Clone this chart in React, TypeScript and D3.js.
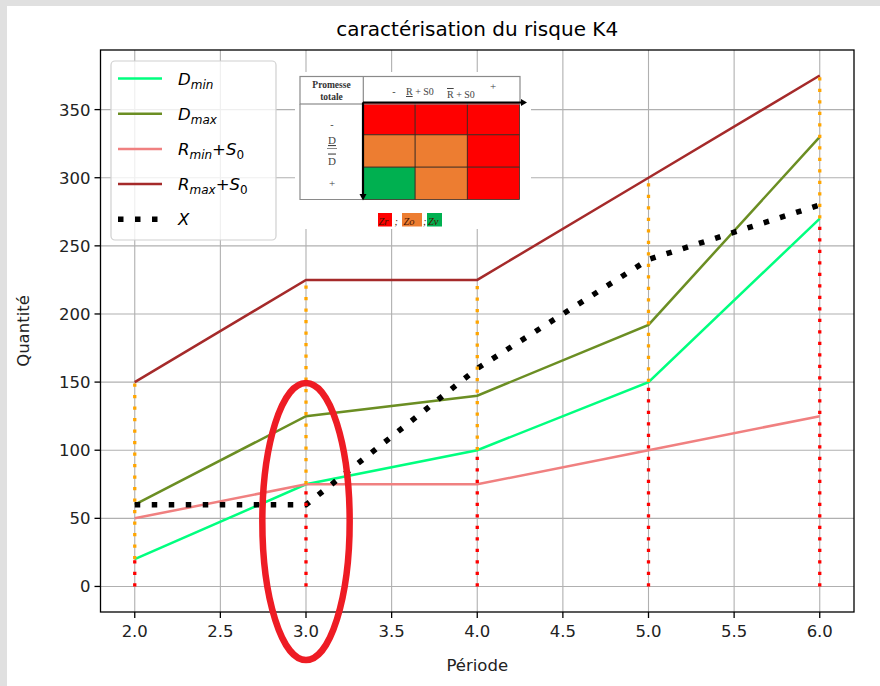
import React from "react";
import * as d3 from "d3";

// ---- data ----
const periods = [2, 3, 4, 5, 6];
const dMin = [20, 75, 100, 150, 270];
const dMax = [60, 125, 140, 192, 330];
const rMinS0 = [50, 75, 75, 100, 125];
const rMaxS0 = [150, 225, 225, 300, 375];
const xValues = [60, 60, 160, 240, 280];
const xTicks = [2.0, 2.5, 3.0, 3.5, 4.0, 4.5, 5.0, 5.5, 6.0];
const yTicks = [0, 50, 100, 150, 200, 250, 300, 350];
// annotation ellipse in data units
const ellipseCenter = [3.0, 47.7];
const ellipseRadii = [0.255, 101.7];
// risk matrix colours (rows top -> bottom)
const matrixColors = [
  ["#ff0000", "#ff0000", "#ff0000"],
  ["#ed7d31", "#ed7d31", "#ff0000"],
  ["#00b050", "#ed7d31", "#ff0000"],
];

const W = 880;
const H = 686;
const L = 100.5, R = 854, T = 50, B = 612;

const x = d3.scaleLinear().domain([1.8, 6.2]).range([L, R]);
const y = d3.scaleLinear().domain([-18.75, 393.75]).range([B, T]);

const series = [
  { key: "dmin", values: dMin, color: "#00ff7f" },
  { key: "dmax", values: dMax, color: "#6b8e23" },
  { key: "rmin", values: rMinS0, color: "#f08080" },
  { key: "rmax", values: rMaxS0, color: "#a52a2a" },
];

const lineGen = d3
  .line<[number, number]>()
  .x((d) => x(d[0]))
  .y((d) => y(d[1]));

const pts = (vals: number[]) => periods.map((p, i) => [p, vals[i]] as [number, number]);

const FONT = "DejaVu Sans, sans-serif";
const SERIF = "Liberation Serif, DejaVu Serif, serif";

function LegendLabel({ kind }: { kind: string }) {
  const base = { fontFamily: FONT, fontSize: 16.5, fill: "#000" } as any;
  if (kind === "dmin" || kind === "dmax") {
    return (
      <text {...base}>
        <tspan fontStyle="italic">D</tspan>
        <tspan fontStyle="italic" fontSize={12} dy={4}>{kind === "dmin" ? "min" : "max"}</tspan>
      </text>
    );
  }
  if (kind === "rmin" || kind === "rmax") {
    return (
      <text {...base}>
        <tspan fontStyle="italic">R</tspan>
        <tspan fontStyle="italic" fontSize={12} dy={4}>{kind === "rmin" ? "min" : "max"}</tspan>
        <tspan dy={-4}>+</tspan>
        <tspan fontStyle="italic">S</tspan>
        <tspan fontSize={12} dy={4}>0</tspan>
      </text>
    );
  }
  return (
    <text {...base}>
      <tspan fontStyle="italic">X</tspan>
    </text>
  );
}

function Inset() {
  const gx0 = 363, gx1 = 519.5, gy0 = 102.5, gy1 = 199.5;
  const cw = (gx1 - gx0) / 3, ch = (gy1 - gy0) / 3;
  return (
    <g>
      <rect x={295} y={72} width={236} height={157} fill="#fff" />
      {matrixColors.map((row, r) =>
        row.map((c, k) => (
          <rect key={`${r}-${k}`} x={gx0 + k * cw} y={gy0 + r * ch} width={cw} height={ch} fill={c} stroke="#3a2a20" strokeWidth={0.8} />
        ))
      )}
      {/* header and left column borders */}
      <rect x={300} y={76.5} width={220} height={27.5} fill="none" stroke="#8a8a8a" strokeWidth={1.2} />
      <line x1={363.3} y1={76.5} x2={363.3} y2={104} stroke="#8a8a8a" strokeWidth={1.2} />
      <polyline points="300,104 300,199.5 363,199.5" fill="none" stroke="#8a8a8a" strokeWidth={1.2} />
      <text x={331.5} y={88} textAnchor="middle" fontFamily={SERIF} fontWeight="bold" fontSize={9.5} fill="#333">Promesse</text>
      <text x={331.5} y={99.5} textAnchor="middle" fontFamily={SERIF} fontWeight="bold" fontSize={9.5} fill="#333">totale</text>
      <text x={394} y={95} textAnchor="middle" fontFamily={SERIF} fontSize={10} fill="#444">-</text>
      <text x={406} y={95} fontFamily={SERIF} fontSize={10} fill="#444">
        <tspan textDecoration="underline">R</tspan> + S0
      </text>
      <text x={447} y={98} fontFamily={SERIF} fontSize={10} fill="#444">
        <tspan textDecoration="overline">R</tspan> + S0
      </text>
      <text x={493} y={90} textAnchor="middle" fontFamily={SERIF} fontSize={11} fill="#444">+</text>
      <text x={332} y={128} textAnchor="middle" fontFamily={SERIF} fontSize={10} fill="#444">-</text>
      <text x={332} y={144} textAnchor="middle" fontFamily={SERIF} fontSize={11} fill="#444" textDecoration="underline">D</text>
      <line x1={327} y1={148.5} x2={337} y2={148.5} stroke="#555" strokeWidth={0.7} />
      <text x={332} y={164.5} textAnchor="middle" fontFamily={SERIF} fontSize={11} fill="#444" textDecoration="overline">D</text>
      <text x={332} y={187} textAnchor="middle" fontFamily={SERIF} fontSize={11} fill="#444">+</text>
      {/* arrows */}
      <line x1={gx0} y1={gy0} x2={521} y2={gy0} stroke="#000" strokeWidth={2.2} />
      <polygon points={`521,${gy0 - 3.5} 527,${gy0} 521,${gy0 + 3.5}`} fill="#000" />
      <line x1={gx0} y1={gy0} x2={gx0} y2={194} stroke="#000" strokeWidth={2.2} />
      <polygon points={`${gx0 - 3.5},194 ${gx0},200.5 ${gx0 + 3.5},194`} fill="#000" />
      {/* zone legend */}
      <rect x={378} y={213} width={14} height={13.5} fill="#ff0000" />
      <rect x={402} y={213} width={20} height={13.5} fill="#ed7d31" />
      <rect x={427} y={213} width={15} height={13.5} fill="#00b050" />
      <text y={224.5} fontFamily={SERIF} fontStyle="italic" fontSize={10.5} fill="#4a1400">
        <tspan x={378.5}>Zr</tspan>
        <tspan x={394.5}>;</tspan>
        <tspan x={403.5}>Zo</tspan>
        <tspan x={423}>;</tspan>
        <tspan x={428}>Zv</tspan>
      </text>
    </g>
  );
}

export default function App() {
  const legendItems = ["dmin", "dmax", "rmin", "rmax", "x"];
  const legendColors: Record<string, string> = {
    dmin: "#00ff7f", dmax: "#6b8e23", rmin: "#f08080", rmax: "#a52a2a", x: "#000",
  };
  return (
    <svg width={W} height={H} style={{ position: "absolute", left: 0, top: 0 }} xmlns="http://www.w3.org/2000/svg">
      <rect x={0} y={0} width={W} height={H} fill="#e0e0e0" />
      <rect x={7} y={6} width={W - 7} height={H - 6} fill="#fff" />

      {/* title */}
      <text x={(L + R) / 2} y={36} textAnchor="middle" fontFamily={FONT} fontSize={20} fill="#000">
        caractérisation du risque K4
      </text>

      {/* grid */}
      <g stroke="#b0b0b0" strokeWidth={1.1}>
        {xTicks.map((t) => (
          <line key={`gx${t}`} x1={x(t)} x2={x(t)} y1={T} y2={B} />
        ))}
        {yTicks.map((t) => (
          <line key={`gy${t}`} x1={L} x2={R} y1={y(t)} y2={y(t)} />
        ))}
      </g>

      {/* series */}
      {series.map((s) => (
        <path key={s.key} d={lineGen(pts(s.values)) || ""} fill="none" stroke={s.color} strokeWidth={2.5} />
      ))}
      <path d={lineGen(pts(xValues)) || ""} fill="none" stroke="#000" strokeWidth={5.5} strokeDasharray="5.5,11.5" />

      {/* vertical dotted ranges */}
      {periods.map((p, i) => (
        <g key={`v${p}`}>
          <line x1={x(p)} x2={x(p)} y1={y(0)} y2={y(dMin[i])} stroke="#ff0000" strokeWidth={3.3} strokeDasharray="3.3,8.2" />
          <line x1={x(p)} x2={x(p)} y1={y(dMin[i])} y2={y(rMaxS0[i])} stroke="#ffa500" strokeWidth={3.3} strokeDasharray="3.3,8.2" />
        </g>
      ))}

      {/* inset picture */}
      <Inset />

      {/* frame */}
      <rect x={L} y={T} width={R - L} height={B - T} fill="none" stroke="#000" strokeWidth={1.3} />

      {/* axes */}
      <g fontFamily={FONT} fontSize={16.5} fill="#222">
        {xTicks.map((t) => (
          <g key={`xt${t}`}>
            <line x1={x(t)} x2={x(t)} y1={B} y2={B + 6} stroke="#000" strokeWidth={1.3} />
            <text x={x(t)} y={B + 25} textAnchor="middle">{d3.format(".1f")(t)}</text>
          </g>
        ))}
        {yTicks.map((t) => (
          <g key={`yt${t}`}>
            <line x1={L - 6} x2={L} y1={y(t)} y2={y(t)} stroke="#000" strokeWidth={1.3} />
            <text x={L - 10} y={y(t) + 6} textAnchor="end">{t}</text>
          </g>
        ))}
        <text x={(L + R) / 2} y={671} textAnchor="middle">Période</text>
        <text transform={`translate(29,${(T + B) / 2}) rotate(-90)`} textAnchor="middle">Quantité</text>
      </g>

      {/* legend */}
      <g>
        <rect x={111} y={61} width={165} height={179} rx={4} fill="#fff" fillOpacity={0.8} stroke="#d0d0d0" strokeWidth={1.2} />
        {legendItems.map((k, i) => {
          const ly = 78.5 + i * 35.2;
          return (
            <g key={k}>
              {k === "x" ? (
                <line x1={118} x2={162} y1={ly} y2={ly} stroke="#000" strokeWidth={5.5} strokeDasharray="5.5,11.5" />
              ) : (
                <line x1={118} x2={162} y1={ly} y2={ly} stroke={legendColors[k]} strokeWidth={2.5} />
              )}
              <g transform={`translate(178,${ly + 6})`}>
                <LegendLabel kind={k} />
              </g>
            </g>
          );
        })}
      </g>

      {/* hand-drawn annotation ellipse */}
      <ellipse
        cx={x(ellipseCenter[0])}
        cy={y(ellipseCenter[1])}
        rx={x(ellipseCenter[0] + ellipseRadii[0]) - x(ellipseCenter[0])}
        ry={y(0) - y(ellipseRadii[1])}
        fill="none"
        stroke="#ee1c24"
        strokeWidth={6.5}
      />
    </svg>
  );
}
